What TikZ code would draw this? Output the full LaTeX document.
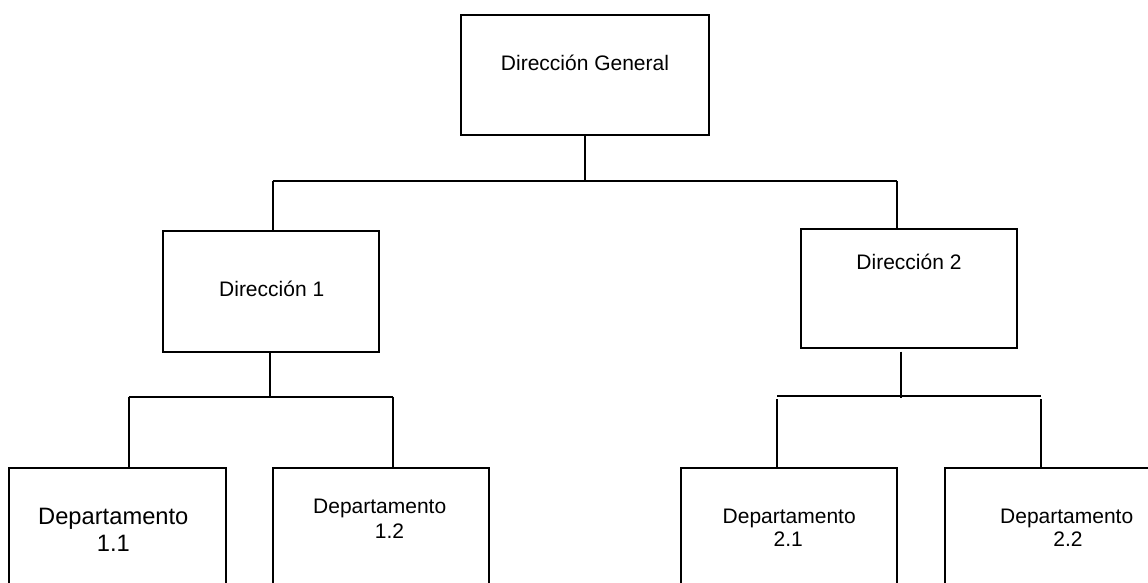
\documentclass[tikz,border=0pt]{standalone}
\usepackage{fontspec}
\setmainfont{Liberation Sans}
\tikzset{
  box/.style={draw=black, line width=2pt, fill=none, inner sep=0pt, outer sep=0pt},
  lbl/.style={inner sep=0pt, outer sep=0pt, anchor=base, font=\fontsize{21}{25}\selectfont},
  biglbl/.style={inner sep=0pt, outer sep=0pt, anchor=base, font=\fontsize{23.7}{28}\selectfont},
  conn/.style={draw=black, line width=2pt}
}
\begin{document}
\begin{tikzpicture}[x=1pt, y=-1pt]
\useasboundingbox (0,0) rectangle (1148,582);
\fill[white] (0,0) rectangle (1148,582);
\clip (0,0) rectangle (1148,582);
% boxes
\node[box, minimum width=248.6pt, minimum height=120.3pt] (dg) at (585,74.85) {};
\node[box, minimum width=216pt, minimum height=120.7pt] (d1) at (271.3,291.35) {};
\node[box, minimum width=215.7pt, minimum height=118.7pt] (d2) at (908.85,288.35) {};
\node[box, minimum width=216.7pt, minimum height=160pt] (p11) at (117.35,548.3) {};
\node[box, minimum width=216.3pt, minimum height=160pt] (p12) at (380.85,548.3) {};
\node[box, minimum width=216.3pt, minimum height=160pt] (p21) at (789.15,548.3) {};
\node[box, minimum width=216.3pt, minimum height=160pt] (p22) at (1053.15,548.3) {};
% labels
\node[lbl] (tdg) at (585,70.7) {Dirección General};
\node[lbl] (td1) at (271.7,296) {Dirección 1};
\node[lbl] (td2) at (909,269.3) {Dirección 2};
\node[biglbl] (tp11a) at (113.3,524) {Departamento};
\node[biglbl] (tp11b) at (113.3,551.7) {1.1};
\node[lbl] (tp12a) at (379.7,513.3) {Departamento};
\node[lbl] (tp12b) at (389.5,538.3) {1.2};
\node[lbl] (tp21a) at (789.2,523.3) {Departamento};
\node[lbl] (tp21b) at (788.3,546.7) {2.1};
\node[lbl] (tp22a) at (1066.7,523.3) {Departamento};
\node[lbl] (tp22b) at (1068,546.7) {2.2};
% junctions
\coordinate (a0) at (585,181);
\coordinate (aL) at (272.7,181);
\coordinate (aR) at (896.7,181);
\coordinate (b0) at (270.3,396.7);
\coordinate (bL) at (128.7,396.7);
\coordinate (bR) at (392.7,396.7);
\coordinate (c0) at (901.3,397.5);
\coordinate (cL) at (777.3,396);
\coordinate (cR) at (1040.7,396);
% connectors
\draw[conn] (dg.south -| a0) -- (a0);
\draw[conn] (aL) -- (aR);
\draw[conn] (aL) -- (aL |- d1.north);
\draw[conn] (aR) -- (aR |- d2.north);
\draw[conn] (b0 |- d1.south) -- (b0);
\draw[conn] (bL) -- (bR);
\draw[conn] (bL) -- (bL |- p11.north);
\draw[conn] (bR) -- (bR |- p12.north);
\draw[conn] ([yshift=-4pt]c0 |- d2.south) -- (c0);
\draw[conn] (cL) -- (cR);
\draw[conn] ([yshift=-3pt]cL) -- (cL |- p21.north);
\draw[conn] ([yshift=-3pt]cR) -- (cR |- p22.north);
\end{tikzpicture}
\end{document}
